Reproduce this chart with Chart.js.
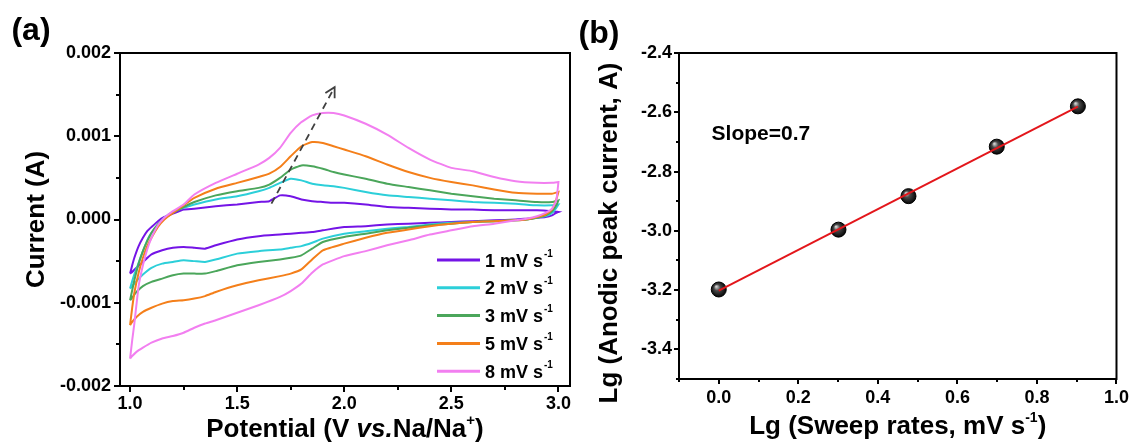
<!DOCTYPE html>
<html>
<head>
<meta charset="utf-8">
<script src="https://cdn.jsdelivr.net/npm/chart.js@4.4.1/dist/chart.umd.min.js"></script>
<style>
  html, body { margin: 0; padding: 0; background: #fff; }
  #wrap { position: relative; width: 1137px; height: 445px; overflow: hidden; }
  canvas { position: absolute; top: 0; }
  #cvA { left: 0; }
  #cvB { left: 580px; }
</style>
</head>
<body>
<div id="wrap">
  <canvas id="cvA" width="580" height="445"></canvas>
  <canvas id="cvB" width="557" height="445"></canvas>
</div>
<script>
'use strict';

// ---------- panel (a): CV curves, currents in mA ----------
let sweepRates = [1, 2, 3, 5, 8];
let curveColors = ['#7414e6', '#2ccfd9', '#4ba65b', '#f47f1a', '#f27ff0'];

// anodic sweep 1.0 -> 3.0 V
let anodicV = [1.00, 1.01, 1.02, 1.04, 1.06, 1.08, 1.10, 1.13, 1.16, 1.20, 1.25, 1.30, 1.40, 1.50, 1.60, 1.65, 1.70,
  1.75, 1.80, 1.85, 1.90, 1.95, 2.00, 2.10, 2.20, 2.30, 2.40, 2.50, 2.60, 2.70, 2.80, 2.90, 2.97, 3.00];
let anodic1 = [-0.65, -0.55, -0.46, -0.32, -0.22, -0.14, -0.09, -0.02, 0.03, 0.07, 0.12, 0.13, 0.16, 0.18, 0.21, 0.22, 0.29,
  0.28, 0.24, 0.22, 0.21, 0.20, 0.20, 0.18, 0.15, 0.14, 0.13, 0.12, 0.12, 0.11, 0.11, 0.11, 0.10, 0.09];
let anodic2 = [-0.83, -0.74, -0.66, -0.52, -0.38, -0.25, -0.16, -0.06, 0.02, 0.09, 0.14, 0.18, 0.24, 0.28, 0.34, 0.38, 0.44,
  0.49, 0.47, 0.43, 0.41, 0.40, 0.38, 0.33, 0.29, 0.27, 0.25, 0.23, 0.21, 0.20, 0.19, 0.17, 0.17, 0.18];
let anodic3 = [-0.97, -0.85, -0.73, -0.53, -0.38, -0.26, -0.16, -0.06, 0.01, 0.08, 0.15, 0.21, 0.29, 0.34, 0.38, 0.42, 0.50,
  0.60, 0.65, 0.64, 0.61, 0.57, 0.54, 0.49, 0.43, 0.39, 0.35, 0.31, 0.28, 0.25, 0.23, 0.21, 0.21, 0.23];
let anodic5 = [-1.27, -1.06, -0.88, -0.64, -0.46, -0.32, -0.22, -0.09, 0.00, 0.08, 0.17, 0.26, 0.37, 0.44, 0.51, 0.55, 0.63,
  0.76, 0.88, 0.93, 0.92, 0.88, 0.84, 0.76, 0.66, 0.57, 0.50, 0.45, 0.41, 0.36, 0.32, 0.31, 0.31, 0.33];
let anodic8 = [-1.67, -1.45, -1.25, -0.80, -0.55, -0.36, -0.22, -0.07, 0.02, 0.10, 0.18, 0.30, 0.44, 0.55, 0.66, 0.74, 0.86,
  1.04, 1.17, 1.25, 1.28, 1.28, 1.25, 1.15, 1.02, 0.86, 0.72, 0.62, 0.58, 0.51, 0.46, 0.44, 0.44, 0.45];

// cathodic sweep 3.0 -> 1.0 V
let cathodicV = [3.00, 2.99, 2.97, 2.94, 2.90, 2.85, 2.80, 2.70, 2.60, 2.50, 2.40, 2.30, 2.20, 2.10, 2.00, 1.90, 1.85,
  1.80, 1.75, 1.70, 1.60, 1.50, 1.40, 1.35, 1.30, 1.25, 1.20, 1.15, 1.10, 1.06, 1.03, 1.01, 1.00];
let cathodic1 = [0.09, 0.08, 0.05, 0.03, 0.02, 0.01, 0.00, -0.01, -0.02, -0.03, -0.04, -0.05, -0.06, -0.08, -0.09, -0.13, -0.15,
  -0.16, -0.17, -0.18, -0.20, -0.24, -0.31, -0.35, -0.34, -0.33, -0.34, -0.37, -0.42, -0.51, -0.58, -0.63, -0.65];
let cathodic2 = [0.18, 0.14, 0.08, 0.04, 0.02, 0.00, -0.01, -0.02, -0.03, -0.04, -0.06, -0.09, -0.11, -0.14, -0.17, -0.23, -0.28,
  -0.32, -0.34, -0.36, -0.38, -0.41, -0.48, -0.51, -0.50, -0.49, -0.51, -0.53, -0.58, -0.66, -0.74, -0.80, -0.83];
let cathodic3 = [0.23, 0.17, 0.10, 0.05, 0.02, 0.00, -0.01, -0.02, -0.03, -0.05, -0.07, -0.10, -0.13, -0.17, -0.21, -0.27, -0.35,
  -0.43, -0.46, -0.48, -0.51, -0.55, -0.62, -0.65, -0.65, -0.65, -0.67, -0.71, -0.75, -0.80, -0.87, -0.94, -0.97];
let cathodic5 = [0.33, 0.24, 0.12, 0.06, 0.03, 0.00, -0.01, -0.02, -0.03, -0.05, -0.08, -0.12, -0.16, -0.22, -0.29, -0.37, -0.48,
  -0.60, -0.65, -0.68, -0.73, -0.79, -0.87, -0.92, -0.95, -0.97, -0.98, -1.01, -1.06, -1.11, -1.17, -1.23, -1.27];
let cathodic8 = [0.45, 0.23, 0.13, 0.08, 0.04, 0.01, -0.01, -0.05, -0.08, -0.13, -0.18, -0.25, -0.31, -0.38, -0.44, -0.54, -0.64,
  -0.77, -0.86, -0.93, -1.03, -1.12, -1.21, -1.25, -1.30, -1.36, -1.40, -1.43, -1.48, -1.54, -1.59, -1.64, -1.67];

// dashed arrow (V, mA)
let arrowV = [1.66, 1.955];
let arrowI = [0.19, 1.59];

let aXMajor = [1.0, 1.5, 2.0, 2.5, 3.0];
let aXMinor = [1.25, 1.75, 2.25, 2.75];
let aYMajor = [-0.002, -0.001, 0, 0.001, 0.002];
let aYMinor = [-0.0015, -0.0005, 0.0005, 0.0015];

// ---------- panel (b): log peak current vs log sweep rate ----------
let lgRate = [0, 0.301, 0.477, 0.699, 0.903];
let lgPeak = [-3.198, -2.996, -2.883, -2.716, -2.580];
let fitX = [0, 0.903];
let fitY = [-3.202, -2.581];
let slopeText = 'Slope=0.7';
let slopeAt = [-0.018, -2.695];

let bXMajor = [0, 0.2, 0.4, 0.6, 0.8, 1.0];
let bXMinor = [-0.1, 0.1, 0.3, 0.5, 0.7, 0.9];
let bYMajor = [-3.4, -3.2, -3.0, -2.8, -2.6, -2.4];
let bYMinor = [-3.5, -3.3, -3.1, -2.9, -2.7, -2.5];

let FAM = '"Liberation Sans", Arial, sans-serif';
let anodicAll = [anodic1, anodic2, anodic3, anodic5, anodic8];
let cathodicAll = [cathodic1, cathodic2, cathodic3, cathodic5, cathodic8];

function setTicks(major, minor) {
  return function (scale) {
    let list = major.map(v => ({ value: v, minor: false }))
      .concat(minor.map(v => ({ value: v, minor: true })));
    list.sort((p, q) => p.value - q.value);
    scale.ticks = list;
  };
}

// draw text made of several pieces (for italic / superscript parts)
function drawRich(ctx, parts, x, y) {
  let total = 0;
  parts.forEach(p => { ctx.font = p.f; total += ctx.measureText(p.t).width; });
  let cx = x - total / 2;
  ctx.textAlign = 'left';
  ctx.textBaseline = 'alphabetic';
  parts.forEach(p => {
    ctx.font = p.f;
    ctx.fillText(p.t, cx, y + (p.dy || 0));
    cx += ctx.measureText(p.t).width;
  });
}

function drawFrame(chart, majorLen, minorLen) {
  let ctx = chart.ctx;
  let a = chart.chartArea;
  let sx = chart.scales.x;
  let sy = chart.scales.y;
  ctx.save();
  ctx.strokeStyle = '#000';
  ctx.lineWidth = 2;
  ctx.strokeRect(a.left, a.top, a.right - a.left, a.bottom - a.top);
  ctx.beginPath();
  sx.ticks.forEach(t => {
    let px = Math.round(sx.getPixelForValue(t.value));
    ctx.moveTo(px, a.bottom);
    ctx.lineTo(px, a.bottom + (t.minor ? minorLen : majorLen));
  });
  sy.ticks.forEach(t => {
    let py = Math.round(sy.getPixelForValue(t.value));
    ctx.moveTo(a.left, py);
    ctx.lineTo(a.left - (t.minor ? minorLen : majorLen), py);
  });
  ctx.stroke();
  ctx.restore();
}

function tickFont() {
  return { family: FAM, size: 18, weight: 'bold' };
}

// ---------- chart (a) ----------
let cvSets = sweepRates.map(function (rate, i) {
  let pts = anodicV.map((v, k) => ({ x: v, y: anodicAll[i][k] / 1000 }))
    .concat(cathodicV.map((v, k) => ({ x: v, y: cathodicAll[i][k] / 1000 })));
  return {
    label: rate + ' mV s⁻¹',
    data: pts,
    showLine: true,
    borderColor: curveColors[i],
    backgroundColor: curveColors[i],
    borderWidth: 2,
    pointRadius: 0,
    tension: 0.15,
    order: 6 - i
  };
});

cvSets.push({
  label: 'arrow',
  data: arrowV.map((v, k) => ({ x: v, y: arrowI[k] / 1000 })),
  showLine: true,
  borderColor: '#404040',
  borderWidth: 1.8,
  borderDash: [7, 5],
  pointRadius: 0,
  order: 0
});

let panelA = {
  id: 'panelA',
  afterDraw: function (chart) {
    let ctx = chart.ctx;
    drawFrame(chart, 6, 4);
    let sx = chart.scales.x;
    let sy = chart.scales.y;

    // arrow head
    let x0 = sx.getPixelForValue(arrowV[0]), y0 = sy.getPixelForValue(arrowI[0] / 1000);
    let x1 = sx.getPixelForValue(arrowV[1]), y1 = sy.getPixelForValue(arrowI[1] / 1000);
    let ang = Math.atan2(y1 - y0, x1 - x0);
    ctx.save();
    ctx.strokeStyle = '#404040';
    ctx.lineWidth = 1.8;
    ctx.beginPath();
    ctx.moveTo(x1 - 11 * Math.cos(ang - 0.5), y1 - 11 * Math.sin(ang - 0.5));
    ctx.lineTo(x1, y1);
    ctx.lineTo(x1 - 11 * Math.cos(ang + 0.5), y1 - 11 * Math.sin(ang + 0.5));
    ctx.stroke();

    // legend
    ctx.fillStyle = '#000';
    sweepRates.forEach(function (rate, i) {
      let y = 260 + i * 27.8;
      ctx.strokeStyle = curveColors[i];
      ctx.lineWidth = 3;
      ctx.beginPath();
      ctx.moveTo(437, y);
      ctx.lineTo(480, y);
      ctx.stroke();
      ctx.font = 'bold 18px ' + FAM;
      ctx.textAlign = 'left';
      ctx.textBaseline = 'alphabetic';
      let txt = rate + ' mV s';
      ctx.fillText(txt, 485, y + 6.5);
      let w = ctx.measureText(txt).width;
      ctx.font = 'bold 10px ' + FAM;
      ctx.fillText('-1', w + 486, y - 3.5);
    });

    // labels and titles
    ctx.font = 'bold 32px ' + FAM;
    ctx.textAlign = 'center';
    ctx.textBaseline = 'alphabetic';
    ctx.fillText('(a)', 31, 40);

    let bf = 'bold 26px ' + FAM;
    drawRich(ctx, [
      { t: 'Potential (V ', f: bf },
      { t: 'vs.', f: 'italic bold 26px ' + FAM },
      { t: 'Na/Na', f: bf },
      { t: '+', f: 'bold 15px ' + FAM, dy: -12 },
      { t: ')', f: bf }
    ], 345, 437);

    ctx.translate(44, 219.5);
    ctx.rotate(-Math.PI / 2);
    drawRich(ctx, [{ t: 'Current (A)', f: bf }], 0, 0);
    ctx.restore();
  }
};

new Chart(document.getElementById('cvA'), {
  type: 'scatter',
  data: { datasets: cvSets },
  options: {
    responsive: false,
    animation: false,
    layout: { padding: { left: 0, top: 53, right: 10, bottom: 0 } },
    plugins: { legend: { display: false }, tooltip: { enabled: false } },
    scales: {
      x: {
        type: 'linear', min: 0.953, max: 3.054,
        afterBuildTicks: setTicks(aXMajor, aXMinor),
        afterFit: s => { s.height = 59; },
        grid: { display: false, drawTicks: false },
        border: { display: false },
        ticks: {
          autoSkip: false, maxRotation: 0, padding: 7, color: '#000', font: tickFont(),
          callback: (v, i, t) => t[i].minor ? '' : v.toFixed(1)
        }
      },
      y: {
        type: 'linear', min: -0.002, max: 0.002,
        afterBuildTicks: setTicks(aYMajor, aYMinor),
        afterFit: s => { s.width = 120; },
        grid: { display: false, drawTicks: false },
        border: { display: false },
        ticks: {
          autoSkip: false, padding: 9, color: '#000', font: tickFont(),
          callback: (v, i, t) => t[i].minor ? '' : v.toFixed(3)
        }
      }
    }
  },
  plugins: [panelA]
});

// ---------- chart (b) ----------
function ballColor(c) {
  let sx = c.chart.scales.x;
  let sy = c.chart.scales.y;
  if (!c.parsed || !sx || !sy) return '#000';
  let x = sx.getPixelForValue(c.parsed.x);
  let y = sy.getPixelForValue(c.parsed.y);
  if (!isFinite(x) || !isFinite(y)) return '#000';
  let g = c.chart.ctx.createRadialGradient(x - 2.5, y - 3, 0.5, x, y, 8);
  g.addColorStop(0, '#d0d0d0');
  g.addColorStop(0.35, '#4a4a4a');
  g.addColorStop(1, '#000');
  return g;
}

let panelB = {
  id: 'panelB',
  afterDraw: function (chart) {
    let ctx = chart.ctx;
    drawFrame(chart, 5, 3);
    let sx = chart.scales.x;
    let sy = chart.scales.y;
    ctx.save();
    ctx.fillStyle = '#000';
    ctx.font = 'bold 21px ' + FAM;
    ctx.textAlign = 'left';
    ctx.textBaseline = 'alphabetic';
    ctx.fillText(slopeText, sx.getPixelForValue(slopeAt[0]), sy.getPixelForValue(slopeAt[1]));

    ctx.font = 'bold 32px ' + FAM;
    ctx.textAlign = 'center';
    ctx.fillText('(b)', 19, 43);

    let bf = 'bold 26px ' + FAM;
    drawRich(ctx, [
      { t: 'Lg (Sweep rates, mV s', f: bf },
      { t: '-1', f: 'bold 14px ' + FAM, dy: -12 },
      { t: ')', f: bf }
    ], (chart.chartArea.left + chart.chartArea.right) / 2, 434);

    ctx.translate(37, 233);
    ctx.rotate(-Math.PI / 2);
    drawRich(ctx, [{ t: 'Lg (Anodic peak current, A)', f: bf }], 0, 0);
    ctx.restore();
  }
};

new Chart(document.getElementById('cvB'), {
  type: 'scatter',
  data: {
    datasets: [
      {
        label: 'fit',
        data: fitX.map((v, k) => ({ x: v, y: fitY[k] })),
        showLine: true,
        borderColor: '#e3161b',
        borderWidth: 2,
        pointRadius: 0,
        order: 0
      },
      {
        label: 'peak current',
        data: lgRate.map((v, k) => ({ x: v, y: lgPeak[k] })),
        pointRadius: 7.5,
        pointBackgroundColor: ballColor,
        pointBorderColor: '#000',
        pointBorderWidth: 1,
        order: 1
      }
    ]
  },
  options: {
    responsive: false,
    animation: false,
    layout: { padding: { left: 0, top: 53, right: 17, bottom: 0 } },
    plugins: { legend: { display: false }, tooltip: { enabled: false } },
    scales: {
      x: {
        type: 'linear', min: -0.1, max: 1.0,
        afterBuildTicks: setTicks(bXMajor, bXMinor),
        afterFit: s => { s.height = 66; },
        grid: { display: false, drawTicks: false },
        border: { display: false },
        ticks: {
          autoSkip: false, maxRotation: 0, padding: 8, color: '#000', font: tickFont(),
          callback: (v, i, t) => t[i].minor ? '' : v.toFixed(1)
        }
      },
      y: {
        type: 'linear', min: -3.5, max: -2.4,
        afterBuildTicks: setTicks(bYMajor, bYMinor),
        afterFit: s => { s.width = 99; },
        grid: { display: false, drawTicks: false },
        border: { display: false },
        ticks: {
          autoSkip: false, padding: 7, color: '#000', font: tickFont(),
          callback: (v, i, t) => t[i].minor ? '' : v.toFixed(1)
        }
      }
    }
  },
  plugins: [panelB]
});
</script>
</body>
</html>
